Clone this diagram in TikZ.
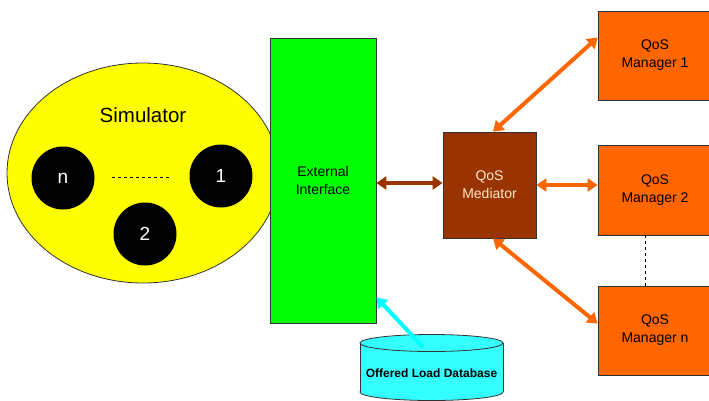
\documentclass[tikz,border=0pt]{standalone}
\usepackage{fontspec}
\setmainfont{Liberation Sans}
\usetikzlibrary{shapes.geometric,arrows.meta,calc}
\definecolor{simyellow}{HTML}{FFFF00}
\definecolor{extgreen}{HTML}{00FF00}
\definecolor{medbrown}{HTML}{993300}
\definecolor{mgrorange}{HTML}{FF6600}
\definecolor{dbcyan}{HTML}{33FFFF}
\definecolor{arrcyan}{HTML}{00FFFF}
\definecolor{medtext}{HTML}{FFE6CC}
\begin{document}
\begin{tikzpicture}[x=1pt,y=-1pt,
  box/.style={draw=black!80,line width=0.8pt,rectangle,inner sep=0pt,align=center,font=\fontsize{14}{18}\selectfont},
  agent/.style={circle,fill=black,minimum size=63pt,inner sep=0pt,text=white,font=\fontsize{19}{19}\selectfont},
  dbl/.style={line width=4pt,{Triangle[length=10pt,width=13pt]}-{Triangle[length=10pt,width=13pt]}},
  sgl/.style={line width=4pt,-{Triangle[length=10pt,width=13pt]}}
]
\useasboundingbox (0,0) rectangle (709,400);
% simulator
\node[ellipse,draw=black!80,line width=0.8pt,fill=simyellow,minimum width=272pt,minimum height=220pt,inner sep=0pt] (sim) at (143,173) {};
\node[font=\fontsize{20.5}{20}\selectfont] (simlabel) at (143,115) {Simulator};
\node[agent] (an) at (63,178) {n};
\node[agent] (a1) at (221,176) {1};
\node[agent] (a2) at (145,234) {2};
\draw[dashed,line width=0.8pt] (112,177) -- (171,177);
% external interface
\node[box,fill=extgreen,minimum width=106pt,minimum height=285pt] (ext) at (323,180.5) {External\\Interface};
% mediator
\node[box,fill=medbrown,text=medtext,minimum width=93pt,minimum height=106pt] (med) at (489.5,185) {QoS\\Mediator};
% managers
\node[box,fill=mgrorange,minimum width=114pt,minimum height=89pt] (m1) at (655,55.5) {QoS\\Manager 1};
\node[box,fill=mgrorange,minimum width=114pt,minimum height=90pt] (m2) at (655,190) {QoS\\Manager 2};
\node[box,fill=mgrorange,minimum width=114pt,minimum height=89pt] (mn) at (655,330.5) {QoS\\Manager n};
\draw[dashed,line width=0.8pt] ([xshift=-10pt]m2.south) -- ([xshift=-10pt]mn.north);
% database cylinder
\fill[dbcyan,draw=black!80,line width=0.8pt] (431.5,392) ellipse [x radius=71.5, y radius=8.5];
\fill[dbcyan] (360,343) rectangle (503,392);
\draw[black!80,line width=0.8pt] (360,343) -- (360,392) (503,343) -- (503,392);
\filldraw[fill=dbcyan,draw=black!80,line width=0.8pt] (431.5,343) ellipse [x radius=71.5, y radius=8.5];
\node[font=\bfseries\fontsize{12}{12}\selectfont,inner sep=0pt] (db) at (431.5,373) {Offered Load Database};
\coordinate (dbtop) at (423,347);
% connectors
\draw[dbl,medbrown] (ext.east |- 0,183) -- (med.west |- 0,183);
\draw[dbl,mgrorange] ([xshift=3.5pt]med.north) -- ([yshift=18pt]m1.west);
\draw[dbl,mgrorange] (med.east |- 0,185) -- (m2.west |- 0,185);
\draw[dbl,mgrorange] ([xshift=3.5pt]med.south) -- ([yshift=7pt]mn.west);
\draw[sgl,arrcyan] (dbtop) -- ([yshift=26pt]ext.south east);
\end{tikzpicture}
\end{document}
